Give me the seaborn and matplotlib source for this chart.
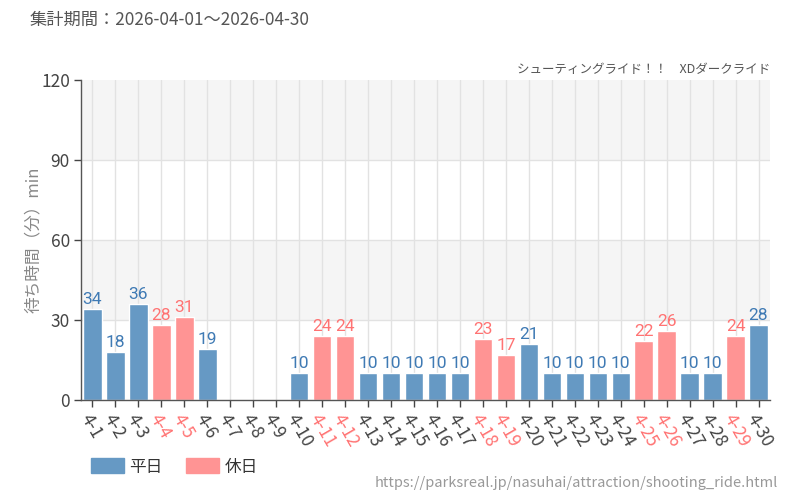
import matplotlib
matplotlib.use("Agg")
import matplotlib.pyplot as plt
import seaborn as sns
import pandas as pd
import numpy as np
from matplotlib.patches import Patch

dates = [f"4-{d}" for d in range(1, 31)]
values = [34, 18, 36, 28, 31, 19, np.nan, np.nan, np.nan, 10, 24, 24, 10, 10, 10,
          10, 10, 23, 17, 21, 10, 10, 10, 10, 22, 26, 10, 10, 24, 28]
holidays = ["4-4", "4-5", "4-11", "4-12", "4-18", "4-19", "4-25", "4-26", "4-29"]
yticks = [0, 30, 60, 90, 120]

BLUE = "#6699c4"
PINK = "#ff9494"
BLUE_T = "#3f7ab4"
PINK_T = "#ff7373"

sns.set_theme(style="white")
plt.rcParams['font.family'] = ['Noto Sans CJK JP', 'DejaVu Sans']

df = pd.DataFrame({
    "date": dates,
    "value": values,
    "type": ["休日" if d in holidays else "平日" for d in dates],
})

fig = plt.figure(figsize=(8, 5), dpi=100)
ax = fig.add_axes([81/800, 100/500, 689/800, 320/500])

# background bands
for lo, hi in [(30, 60), (90, 120)]:
    ax.axhspan(lo, hi, color="#f5f5f5", zorder=0, lw=0)
for y in [30, 60, 90]:
    ax.axhline(y, color="#e2e2e2", lw=1, zorder=0.5)
for i in range(len(dates)):
    ax.axvline(i, color="#e2e2e2", lw=1, zorder=0.5)

sns.barplot(data=df, x="date", y="value", hue="type", dodge=False,
            palette={"平日": BLUE, "休日": PINK}, width=0.8, ax=ax,
            legend=False, zorder=2, saturation=1)

for i, (d, v) in enumerate(zip(dates, values)):
    if np.isnan(v):
        continue
    c = PINK_T if d in holidays else BLUE_T
    ax.text(i, v + 0.8, f"{int(v)}", ha="center", va="bottom", color=c,
            fontsize=12.5, family=["Roboto", "DejaVu Sans"], zorder=3)

ax.set_xlim(-0.5, len(dates) - 0.5)
ax.set_ylim(0, 120)
ax.set_yticks(yticks)
ax.set_yticklabels([str(t) for t in yticks], fontsize=12.5, color="#444444")
ax.set_xticks(range(len(dates)))
ax.set_xticklabels(dates, rotation=-60, ha="left", va="top", fontsize=12.5,
                   rotation_mode="anchor")
for lbl, d in zip(ax.get_xticklabels(), dates):
    lbl.set_color(PINK_T if d in holidays else "#444444")
ax.tick_params(axis="both", length=5, width=1, color="#444444", direction="out",
               bottom=True, left=True, pad=3)
ax.set_xlabel("")
ax.set_ylabel("待ち時間（分）min", fontsize=12, color="#888888")
ax.yaxis.set_label_coords((42 - 81) / 689, 0.5)
for s in ["top", "right"]:
    ax.spines[s].set_visible(False)
for s in ["left", "bottom"]:
    ax.spines[s].set_color("#555555")
    ax.spines[s].set_linewidth(1)

fig.text(30/800, 1 - 20/500, "集計期間：2026-04-01～2026-04-30", fontsize=12.4,
         color="#555555", ha="left", va="center")
fig.text(770/800, 1 - 69/500, "シューティングライド！！　XDダークライド", fontsize=9.0,
         color="#555555", ha="right", va="center")
fig.text(778/800, 1 - 483/500, "https://parksreal.jp/nasuhai/attraction/shooting_ride.html",
         fontsize=10.5, color="#999999", ha="right", va="center")

handles = [Patch(color=BLUE, label="平日"), Patch(color=PINK, label="休日")]
fig.legend(handles=handles, loc="center left", bbox_to_anchor=(76/800, 1 - 467/500),
           ncol=2, frameon=False, fontsize=12, handlelength=2.0, handleheight=1.0,
           handletextpad=0.3, columnspacing=1.4, labelcolor="#333333")

fig.savefig("out.png", dpi=100)
